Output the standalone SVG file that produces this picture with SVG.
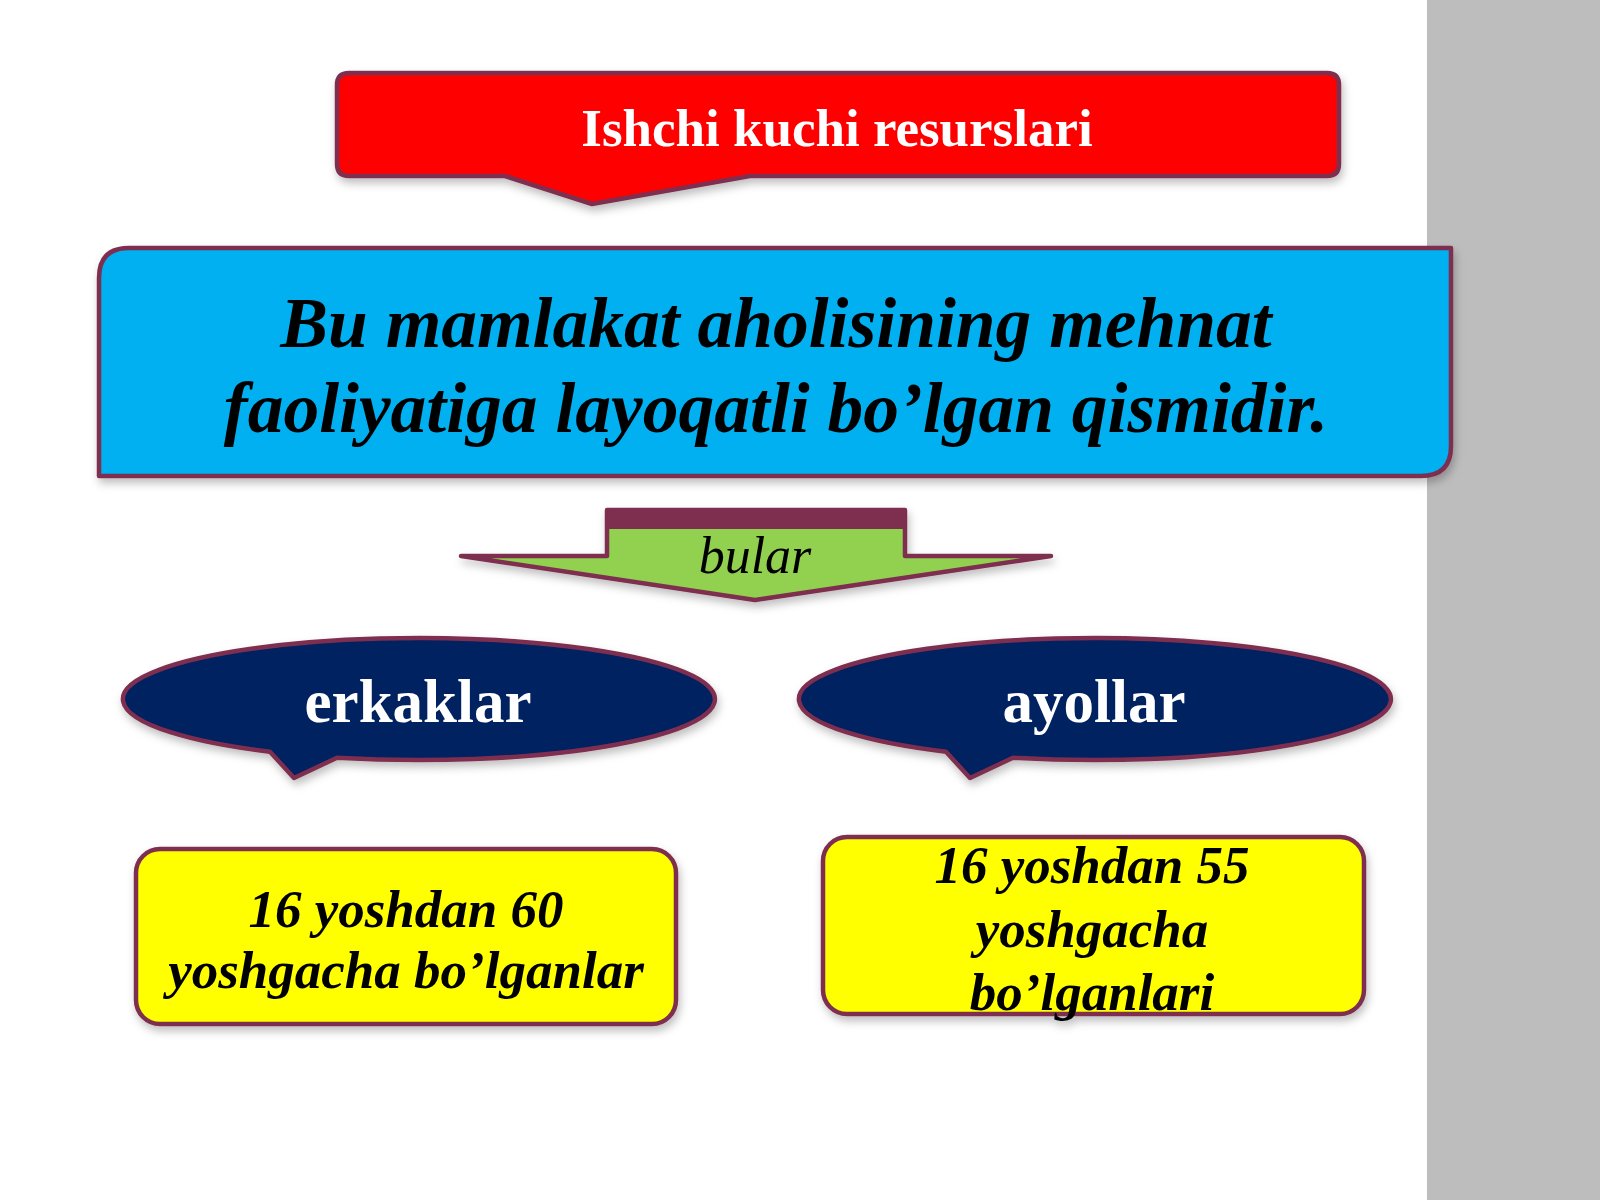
<svg xmlns="http://www.w3.org/2000/svg" width="1600" height="1200" viewBox="0 0 1600 1200">
  <defs>
    <filter id="sh" x="-10%" y="-20%" width="120%" height="150%">
      <feDropShadow dx="2" dy="5" stdDeviation="4" flood-color="#000" flood-opacity="0.25"/>
    </filter>
  </defs>
  <style>
    .edge { stroke: #7E2F4F; stroke-width: 4.5; stroke-linejoin: round; }
    .serif { font-family: "Liberation Serif", "Times New Roman", serif; }
    .white { fill: #FFFFFF; font-weight: bold; }
    .bi { fill: #000000; font-weight: bold; font-style: italic; }
  </style>
  <rect x="0" y="0" width="1600" height="1200" fill="#FFFFFF"/>
  <g id="side-panel">
    <rect x="1427" y="0" width="173" height="1200" fill="#BDBDBD"/>
  </g>

  <g id="title" filter="url(#sh)">
    <path class="edge" fill="#FF0000" d="M 349,73 H 1327 Q 1339,73 1339,85 V 164 Q 1339,176 1327,176 H 750 L 592,204 L 505,176 H 349 Q 337,176 337,164 V 85 Q 337,73 349,73 Z"/>
    <text class="serif white" x="837" y="146" font-size="53" text-anchor="middle">Ishchi kuchi resurslari</text>
  </g>

  <g id="definition" filter="url(#sh)">
    <path class="edge" fill="#00B0F0" d="M 99,476 V 278 Q 99,248 129,248 H 1451 V 446 Q 1451,476 1421,476 Z"/>
    <text class="serif bi" x="776" y="347" font-size="71.5" text-anchor="middle">Bu mamlakat aholisining mehnat</text>
    <text class="serif bi" x="776" y="432" font-size="71.5" text-anchor="middle">faoliyatiga layoqatli bo’lgan qismidir.</text>
  </g>

  <g id="connectors">
    <g id="bular-arrow" filter="url(#sh)">
      <path class="edge" fill="#92D050" d="M 607,510 H 905 V 556 H 1051 L 755,600 L 461,556 H 607 Z"/>
      <rect x="607" y="510" width="298" height="19" fill="#7E2F4F"/>
      <text class="serif" x="755" y="573" font-size="52" font-style="italic" fill="#000" text-anchor="middle">bular</text>
    </g>
  </g>

  <g id="erkaklar" filter="url(#sh)">
    <path class="edge" fill="#002060" d="M 270,751.8 L 294,778 L 337,757.7 A 296 61 0 1 0 270,751.8 Z"/>
    <text class="serif white" x="418" y="722" font-size="61" text-anchor="middle">erkaklar</text>
  </g>

  <g id="ayollar" filter="url(#sh)">
    <path class="edge" fill="#002060" d="M 946,751.8 L 970,778 L 1013,757.7 A 296 61 0 1 0 946,751.8 Z"/>
    <text class="serif white" x="1094" y="722" font-size="61" text-anchor="middle">ayollar</text>
  </g>

  <g id="erkaklar-age" filter="url(#sh)">
    <rect class="edge" fill="#FFFF00" x="136" y="849" width="540" height="175" rx="24"/>
    <text class="serif bi" x="406" y="927" font-size="53" text-anchor="middle">16 yoshdan 60</text>
    <text class="serif bi" x="406" y="988" font-size="53" text-anchor="middle">yoshgacha bo’lganlar</text>
  </g>

  <g id="ayollar-age" filter="url(#sh)">
    <rect class="edge" fill="#FFFF00" x="823" y="837" width="541" height="177" rx="24"/>
    <text class="serif bi" x="1092" y="883" font-size="53" text-anchor="middle">16 yoshdan 55</text>
    <text class="serif bi" x="1092" y="947" font-size="53" text-anchor="middle">yoshgacha</text>
    <text class="serif bi" x="1092" y="1010" font-size="53" text-anchor="middle">bo’lganlari</text>
  </g>
</svg>
